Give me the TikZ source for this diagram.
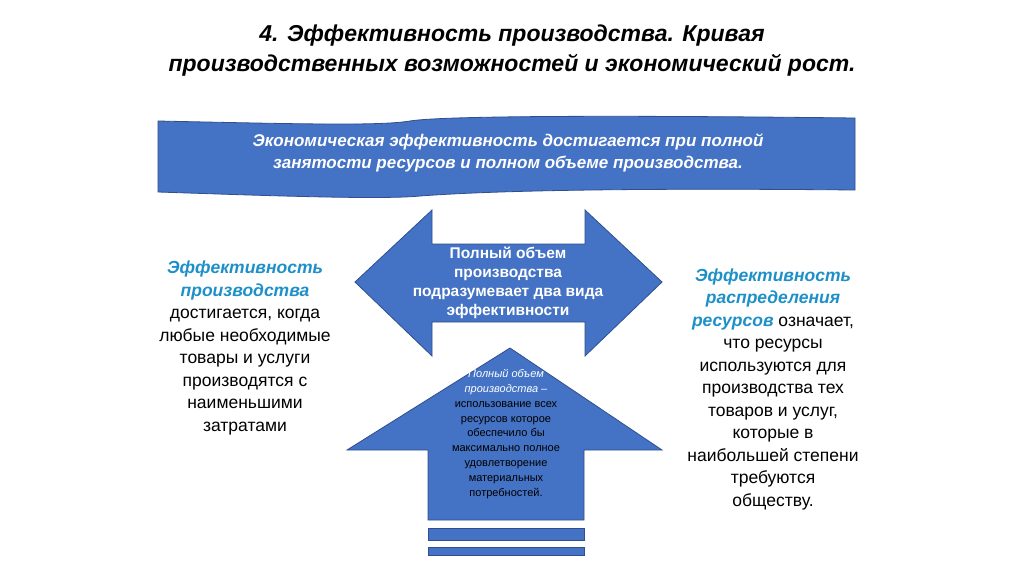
\documentclass[tikz,border=0pt]{standalone}
\usepackage{fontspec}
\setmainfont{Liberation Sans}
\definecolor{fillb}{HTML}{4472C4}
\definecolor{edgeb}{HTML}{2F4F8F}
\definecolor{hl}{HTML}{1E90C8}
\begin{document}
\begin{tikzpicture}[x=1pt,y=-1pt,
  shp/.style={fill=fillb,draw=edgeb,line width=0.8pt},
  side/.style={align=center,font=\fontsize{17.5}{22.5}\selectfont,text=black}]
\useasboundingbox (0,0) rectangle (1024,574);
\fill[white] (0,0) rectangle (1024,574);
\node[font=\fontsize{23}{30}\selectfont\bfseries\itshape,align=center] (title) at (512,51)
 {4. Эффективность производства. Кривая\\производственных возможностей и экономический рост.};
% banner
\draw[shp] (158,121) .. controls (300,124) and (380,126) .. (410,121) .. controls (440,116) and (600,115) .. (855,118)
  -- (855,190) .. controls (650,188) and (500,190) .. (420,196) .. controls (380,200) and (250,195) .. (158,192) -- cycle;
\node[text=white,font=\fontsize{17}{22}\selectfont\bfseries\itshape,align=center] (ban) at (508,153)
 {Экономическая эффективность достигается при полной\\занятости ресурсов и полном объеме производства.};
% double arrow
\draw[shp] (355,282) -- (432,210) -- (432,244) -- (585,244) -- (585,210) -- (662,282) -- (585,356) -- (585,322) -- (432,322) -- (432,356) -- cycle;
\node[text=white,font=\fontsize{15.5}{19}\selectfont\bfseries,align=center] (dbl) at (508,283)
 {Полный объем\\производства\\подразумевает два вида\\эффективности};
% up arrow
\draw[shp] (510,348) -- (662,450) -- (584,450) -- (584,520) -- (428,520) -- (428,450) -- (347,450) -- cycle;
\draw[shp] (428,528) rectangle (584,540);
\draw[shp] (428,547) rectangle (584,555);
\node[align=center,font=\fontsize{11}{14.8}\selectfont] (up) at (506,434)
 {\textcolor{white}{\itshape Полный объем}\\\textcolor{white}{\itshape производства –}\\использование всех\\ресурсов которое\\обеспечило бы\\максимально полное\\удовлетворение\\материальных\\потребностей.};
% side texts
\node[side] (lt) at (245,348)
 {\textcolor{hl}{\bfseries\itshape Эффективность}\\\textcolor{hl}{\bfseries\itshape производства}\\достигается, когда\\любые необходимые\\товары и услуги\\производятся с\\наименьшими\\затратами};
\node[side] (rt) at (773,389)
 {\textcolor{hl}{\bfseries\itshape Эффективность}\\\textcolor{hl}{\bfseries\itshape распределения}\\\textcolor{hl}{\bfseries\itshape ресурсов} означает,\\что ресурсы\\используются для\\производства тех\\товаров и услуг,\\которые в\\наибольшей степени\\требуются\\обществу.};
\end{tikzpicture}
\end{document}
